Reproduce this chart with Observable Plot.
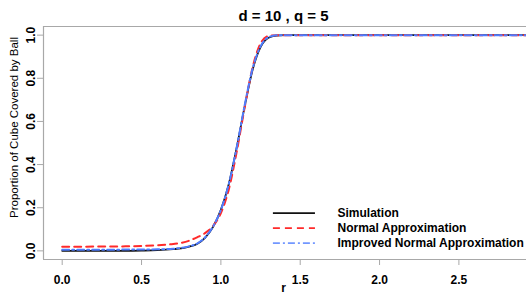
<!DOCTYPE html>
<html>
<head>
<meta charset="utf-8">
<script src="https://cdn.jsdelivr.net/npm/d3@7"></script>
<script src="https://cdn.jsdelivr.net/npm/@observablehq/plot@0.6"></script>
<style>
  html, body { margin: 0; padding: 0; background: #fff; }
  #chart { width: 526px; height: 303px; overflow: hidden; }
</style>
</head>
<body>
<div id="chart"></div>
<script>
// ---- data ----
const r = [0.0, 0.1, 0.2, 0.3, 0.4, 0.5, 0.6, 0.7, 0.75, 0.8, 0.85, 0.9, 0.95, 1.0, 1.05, 1.1, 1.15, 1.2, 1.25, 1.3, 1.35, 1.4, 1.5, 1.75, 2.0, 2.25, 2.5, 2.75, 2.95];
const simulation = [0, 0, 0, 0, 0, 0.001, 0.003, 0.008, 0.012, 0.020, 0.032, 0.060, 0.110, 0.190, 0.310, 0.480, 0.670, 0.840, 0.945, 0.988, 0.998, 1, 1, 1, 1, 1, 1, 1, 1];
const normalApprox = [0.019, 0.019, 0.020, 0.020, 0.021, 0.023, 0.026, 0.032, 0.037, 0.047, 0.063, 0.082, 0.115, 0.175, 0.285, 0.460, 0.665, 0.850, 0.962, 0.996, 1, 1, 1, 1, 1, 1, 1, 1, 1];
const improvedApprox = [0.005, 0.005, 0.005, 0.005, 0.006, 0.006, 0.007, 0.010, 0.014, 0.021, 0.034, 0.062, 0.112, 0.190, 0.310, 0.480, 0.675, 0.845, 0.948, 0.990, 0.999, 1, 1, 1, 1, 1, 1, 1, 1];
const seriesNames = ["Simulation", "Normal Approximation", "Improved Normal Approximation"];
const xTicks = [0, 0.5, 1.0, 1.5, 2.0, 2.5];
const yTicks = [0, 0.2, 0.4, 0.6, 0.8, 1.0];
const titleText = "d = 10 , q = 5";
const xLabel = "r";
const yLabel = "Proportion of Cube Covered by Ball";

// ---- styles / layout ----
const colors = ["#111111", "#ff2a2a", "#4f7dff"];
const dashes = [null, "7,5", "7,3,2,3"];
const gray = "#a8a8a8";
const xDomain = [-0.1178, 2.926];
const yDomain = [-0.04, 1.04];
const legendLineX = [1.331, 1.596];
const legendTextX = 1.735;
const legendRowsY = [0.175, 0.105, 0.036];

const seriesValues = [simulation, normalApprox, improvedApprox];
const rows = seriesValues.flatMap((vals, s) => r.map((x, i) => ({r: x, v: vals[i], s})));
const legend = seriesNames.map((name, s) => ({name, s, y: legendRowsY[s]}));

const lineMarks = [0, 1, 2].map(s =>
  Plot.line(rows.filter(d => d.s === s), {
    x: "r", y: "v", stroke: colors[s], strokeWidth: s === 0 ? 1.8 : 2,
    strokeDasharray: dashes[s] || undefined, curve: "monotone-x"
  })
);
const legendMarks = legend.map(d =>
  Plot.ruleY([d], {
    y: "y", x1: legendLineX[0], x2: legendLineX[1],
    stroke: colors[d.s], strokeWidth: d.s === 2 ? 1.6 : 1.8,
    strokeDasharray: dashes[d.s] || undefined,
    strokeOpacity: d.s === 2 ? 0.8 : 1
  })
);

const chart = Plot.plot({
  width: 526,
  height: 303,
  marginLeft: 43,
  marginRight: 0,
  marginTop: 26,
  marginBottom: 44,
  style: {fontFamily: "'Liberation Sans', Arial, sans-serif", fontWeight: "bold", fontSize: "12px", color: "black", background: "white"},
  x: {domain: xDomain, axis: null},
  y: {domain: yDomain, axis: null},
  marks: [
    Plot.ruleX([xDomain[0]], {stroke: gray, strokeWidth: 1.2}),
    Plot.ruleY([yDomain[0], yDomain[1]], {stroke: gray, strokeWidth: 1.2}),
    Plot.axisX({ticks: xTicks, tickSize: 6, tickPadding: 10, tickFormat: d3.format(".1f"),
      stroke: gray, fill: "black", fontSize: 12, fontWeight: "bold", label: null}),
    Plot.axisY({ticks: yTicks, tickSize: 6, tickFormat: () => "", stroke: gray, label: null}),
    Plot.text(yTicks, {y: d => d, frameAnchor: "left", dx: -12.5, rotate: -90, textAnchor: "middle",
      text: d => d.toFixed(1), fontSize: 12, fontWeight: "bold", fill: "black"}),
    ...lineMarks,
    ...legendMarks,
    Plot.text(legend, {x: legendTextX, y: "y", text: "name", textAnchor: "start",
      fontSize: 12, fontWeight: "bold", fill: "black"}),
    Plot.text([titleText], {frameAnchor: "top", dy: -16, dx: -1.5, text: d => d,
      fontSize: 15, fontWeight: "bold", fill: "black"}),
    Plot.text([xLabel], {frameAnchor: "bottom", dy: 32, dx: -1.5, text: d => d,
      fontSize: 12, fontWeight: "bold", fill: "black"}),
    Plot.text([yLabel], {frameAnchor: "left", dx: -29, dy: -15.5, rotate: -90, textAnchor: "middle", text: d => d,
      fontSize: 11.5, fontWeight: "normal", fill: "black"})
  ]
});
document.getElementById("chart").appendChild(chart);
</script>
</body>
</html>
